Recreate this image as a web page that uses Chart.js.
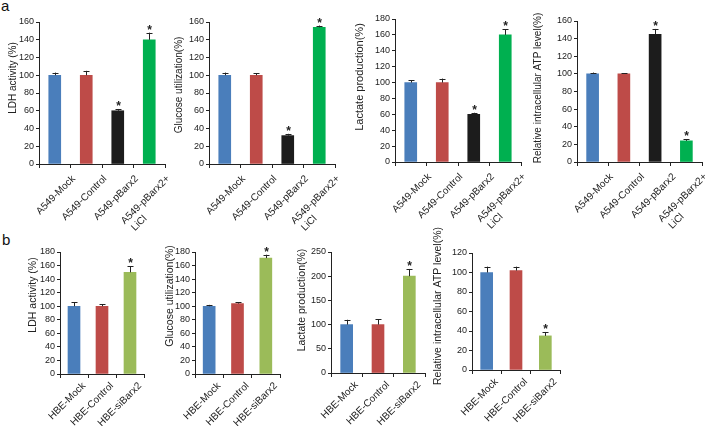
<!DOCTYPE html>
<html>
<head>
<meta charset="utf-8">
<script src="https://cdn.jsdelivr.net/npm/chart.js@4/dist/chart.umd.min.js"></script>
<style>
  html, body { margin: 0; padding: 0; background: #fff; }
  #wrap { position: relative; width: 709px; height: 426px; overflow: hidden; font-family: 'Liberation Sans', Arial, sans-serif; }
  .panel { position: absolute; }
  .tag { position: absolute; font-size: 15px; color: #111; }
</style>
</head>
<body>
<div id="wrap">
  <div class="tag" style="left:1px;top:-3px;">a</div>
  <div class="tag" style="left:2px;top:231px;">b</div>
</div>
<script>
// categories (trailing blanks only shift the wrapped "LiCl" line like the original)
const catsA = ['A549-Mock', 'A549-Control', 'A549-pBarx2', ['A549-pBarx2+', 'LiCl                ']];
const catsB = ['HBE-Mock', 'HBE-Control', 'HBE-siBarx2'];

// row a values (mean, error)
const ldhA = [100, 100, 60, 140];
const ldhAErr = [3, 5, 2, 8];
const glucoseA = [100, 100, 32, 154];
const glucoseAErr = [3, 2, 2, 2];
const lactateA = [100, 100, 60, 160];
const lactateAErr = [3, 5, 2, 7];
const atpA = [100, 100, 145, 24];
const atpAErr = [1.5, 0.5, 6, 2];
const starsA1 = [false, false, true, true];

// row b values (mean, error)
const ldhB = [100, 100, 150];
const ldhBErr = [6, 3, 9];
const glucoseB = [100, 104, 171];
const glucoseBErr = [2, 2, 5];
const lactateB = [100, 100, 200];
const lactateBErr = [10, 11, 15];
const atpB = [100, 102, 35];
const atpBErr = [6, 4, 4];
const starsB1 = [false, false, true];

const colorsA = ['#4a7ebb', '#be4b48', '#1c1c1c', '#00b050'];
const colorsB = ['#4a7ebb', '#be4b48', '#9bbb59'];

// L/R/T/B: plot box on the page, tx/ty: centre of the y title
const panels = [
  { L: 39, R: 165, T: 22, B: 164, tx: 13, ty: 78, max: 160, step: 20, title: 'LDH activity (%)', ts: 10, cats: catsA, vals: ldhA, errs: ldhAErr, stars: starsA1, colors: colorsA, lo: 19, lp: 5 },
  { L: 209, R: 335, T: 22, B: 164, tx: 179, ty: 85, max: 160, step: 20, title: 'Glucose utilization(%)', ts: 10, cats: catsA, vals: glucoseA, errs: glucoseAErr, stars: starsA1, colors: colorsA, lo: 19, lp: 5 },
  { L: 395, R: 521, T: 19, B: 162, tx: 360, ty: 77, max: 180, step: 20, title: 'Lactate production(%)', ts: 11, cats: catsA, vals: lactateA, errs: lactateAErr, stars: starsA1, colors: colorsA, lo: 19, lp: 5 },
  { L: 577, R: 702, T: 21, B: 162, tx: 538, ty: 88, max: 160, step: 20, title: 'Relative intracellular ATP level(%)', ts: 10, cats: catsA, vals: atpA, errs: atpAErr, stars: starsA1, colors: colorsA, lo: 19, lp: 5 },
  { L: 60, R: 144, T: 252, B: 374, tx: 33, ty: 295, max: 180, step: 20, title: 'LDH activity (%)', ts: 10.5, cats: catsB, vals: ldhB, errs: ldhBErr, stars: starsB1, colors: colorsB, lo: 10, lp: 2 },
  { L: 195, R: 280, T: 252, B: 374, tx: 170, ty: 296, max: 180, step: 20, title: 'Glucose utilization(%)', ts: 10.5, cats: catsB, vals: glucoseB, errs: glucoseBErr, stars: starsB1, colors: colorsB, lo: 10, lp: 2 },
  { L: 331, R: 425, T: 252, B: 373, tx: 302, ty: 300, max: 250, step: 50, title: 'Lactate production(%)', ts: 10.5, cats: catsB, vals: lactateB, errs: lactateBErr, stars: starsB1, colors: colorsB, lo: 10, lp: 2 },
  { L: 472, R: 560, T: 253, B: 370, tx: 438, ty: 306, max: 120, step: 20, title: 'Relative intracellular ATP level(%)', ts: 10.5, cats: catsB, vals: atpB, errs: atpBErr, stars: starsB1, colors: colorsB, lo: 10, lp: 2 }
];

const font = "'Liberation Sans', Arial, sans-serif";
const ink = '#222';

// error bars and significance stars, placed with the chart's own y scale
const errorBars = {
  id: 'errorBars',
  afterDatasetsDraw(chart, args, opts) {
    const ctx = chart.ctx;
    const y = chart.scales.y;
    const meta = chart.getDatasetMeta(0);
    ctx.save();
    ctx.strokeStyle = ink;
    ctx.fillStyle = ink;
    ctx.lineWidth = 1;
    meta.data.forEach((bar, i) => {
      const top = y.getPixelForValue(opts.vals[i] + opts.errs[i]);
      const x = Math.round(bar.x) + 0.5;
      ctx.beginPath();
      ctx.moveTo(x, bar.y);
      ctx.lineTo(x, top);
      ctx.moveTo(x - 3, Math.round(top) + 0.5);
      ctx.lineTo(x + 3, Math.round(top) + 0.5);
      ctx.stroke();
      if (opts.stars[i]) {
        ctx.font = 'bold 12px ' + font;
        ctx.textAlign = 'center';
        ctx.textBaseline = 'alphabetic';
        ctx.fillText('*', x, top + 1);
      }
    });
    ctx.restore();
  }
};

// y title, sitting a bit above the axis middle as in the original figure
const yTitle = {
  id: 'yTitle',
  afterDraw(chart, args, opts) {
    const ctx = chart.ctx;
    ctx.save();
    ctx.translate(opts.x, opts.y);
    ctx.rotate(-Math.PI / 2);
    ctx.font = opts.size + 'px ' + font;
    ctx.fillStyle = ink;
    ctx.textAlign = 'center';
    ctx.textBaseline = 'middle';
    ctx.fillText(opts.text, 0, 0);
    ctx.restore();
  }
};

const wrap = document.getElementById('wrap');
const padTop = 40;

panels.forEach(p => {
  const cx = p.tx - 10;
  const cy = p.T - padTop;
  const w = p.R - cx + 8;
  const h = (p.B - cy) + 80;
  const yw = p.L - cx;
  const xh = h - (p.B - cy);

  const div = document.createElement('div');
  div.className = 'panel';
  div.style.left = cx + 'px';
  div.style.top = cy + 'px';
  const canvas = document.createElement('canvas');
  canvas.width = w;
  canvas.height = h;
  canvas.style.width = w + 'px';
  canvas.style.height = h + 'px';
  div.appendChild(canvas);
  wrap.appendChild(div);

  new Chart(canvas.getContext('2d'), {
    type: 'bar',
    data: {
      labels: p.cats,
      datasets: [{
        data: p.vals,
        backgroundColor: p.colors,
        borderWidth: 0,
        barThickness: 12
      }]
    },
    options: {
      responsive: false,
      animation: false,
      devicePixelRatio: 1,
      layout: { padding: { top: padTop, right: 8, left: 0, bottom: 0 } },
      plugins: {
        legend: { display: false },
        tooltip: { enabled: false },
        errorBars: { vals: p.vals, errs: p.errs, stars: p.stars },
        yTitle: { text: p.title, size: p.ts, x: p.tx - cx, y: p.ty - cy }
      },
      scales: {
        x: {
          afterFit: s => { s.height = xh; },
          border: { color: ink, width: 1 },
          grid: { display: true, drawOnChartArea: false, offset: true, tickLength: 4, color: ink },
          ticks: {
            color: ink,
            font: { family: font, size: 10 },
            autoSkip: false,
            maxRotation: 45,
            minRotation: 45,
            padding: p.lp,
            labelOffset: p.lo
          }
        },
        y: {
          min: 0,
          max: p.max,
          afterFit: s => { s.width = yw; },
          border: { color: ink, width: 1 },
          grid: { display: true, drawOnChartArea: false, tickLength: 3, color: ink },
          ticks: { stepSize: p.step, autoSkip: false, color: ink, font: { family: font, size: 9 }, padding: 2 }
        }
      }
    },
    plugins: [errorBars, yTitle]
  });
});
</script>
</body>
</html>
